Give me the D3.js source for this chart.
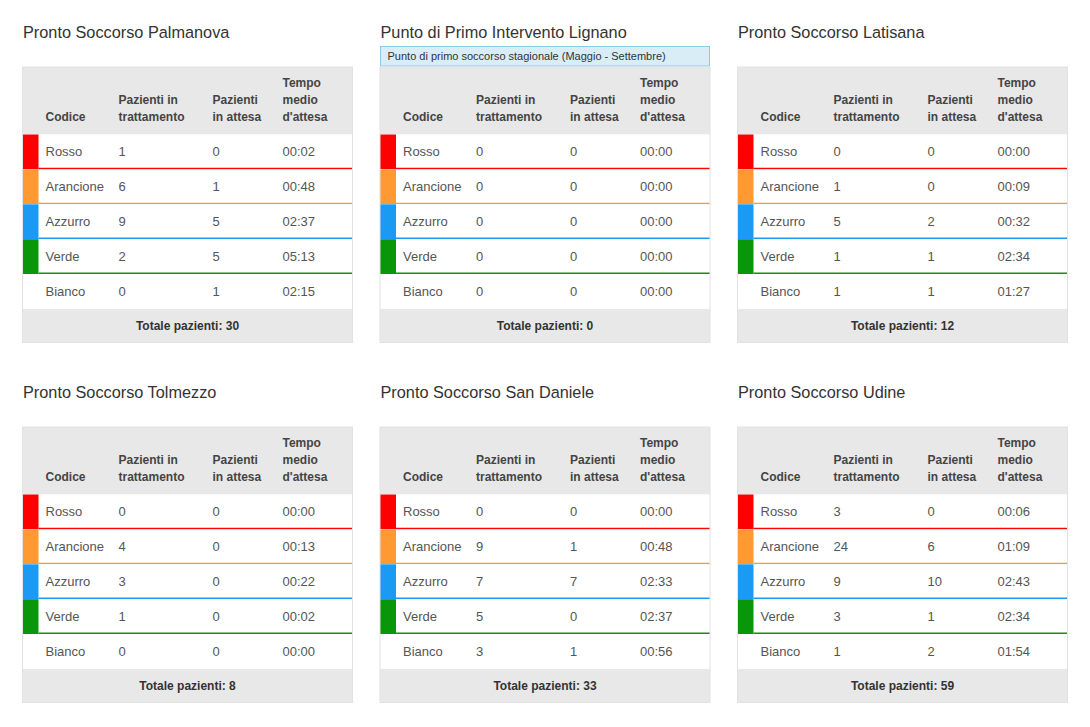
<!DOCTYPE html>
<html><head><meta charset="utf-8">
<script src="https://cdn.jsdelivr.net/npm/d3@7"></script>
<style>
body{margin:0;background:#fff;}
svg{display:block;font-family:"Liberation Sans",Arial,sans-serif;}
</style></head>
<body><svg id="c" width="1090" height="727"></svg>
<script>
const hospitals = ["Pronto Soccorso Palmanova","Punto di Primo Intervento Lignano","Pronto Soccorso Latisana","Pronto Soccorso Tolmezzo","Pronto Soccorso San Daniele","Pronto Soccorso Udine"];
const notes = ["","Punto di primo soccorso stagionale (Maggio - Settembre)","","","",""];
const codes = ["Rosso","Arancione","Azzurro","Verde","Bianco"];
const headers = [["Codice"],["Pazienti in","trattamento"],["Pazienti","in attesa"],["Tempo","medio","d'attesa"]];
const inTreatment = [[1,6,9,2,0],[0,0,0,0,0],[0,1,5,1,1],[0,4,3,1,0],[0,9,7,5,3],[3,24,9,3,1]];
const waiting = [[0,1,5,5,1],[0,0,0,0,0],[0,0,2,1,1],[0,0,0,0,0],[0,1,7,0,1],[0,6,10,1,2]];
const avgWait = [
 ["00:02","00:48","02:37","05:13","02:15"],
 ["00:00","00:00","00:00","00:00","00:00"],
 ["00:00","00:09","00:32","02:34","01:27"],
 ["00:00","00:13","00:22","00:02","00:00"],
 ["00:00","00:48","02:33","02:37","00:56"],
 ["00:06","01:09","02:43","02:34","01:54"]];
const codeColors = {Rosso:"#ff0000",Arancione:"#ff9a33",Azzurro:"#1a9af2",Verde:"#0a960a",Bianco:null};

const svg = d3.select("#c");
const tableW = 330, headerH = 67.5, rowH = 34.9, footH = 33.5;
const px = d3.scaleLinear().domain([0,2]).range([22.5, 737.5]);
const py = d3.scaleLinear().domain([0,1]).range([0, 360]);
const colX = [23, 96, 190, 260];
const strip = 16;

hospitals.forEach((name, i) => {
  const gx = px(i % 3), gy = py(Math.floor(i / 3));
  const g = svg.append("g").attr("transform", `translate(${gx},${gy})`);
  g.append("text").attr("x", 0.5).attr("y", 37.5).attr("font-size", 16.3).attr("fill", "#333").text(name);
  if (notes[i]) {
    g.append("rect").attr("x", 0.5).attr("y", 46.5).attr("width", tableW - 1).attr("height", 19.5)
      .attr("fill", "#d9edf7").attr("stroke", "#8ccde6").attr("stroke-width", 1);
    g.append("text").attr("x", 7.5).attr("y", 60).attr("font-size", 11).attr("fill", "#333").text(notes[i]);
  }
  const top = 67;
  const y = d3.scaleBand().domain(codes).range([top + headerH, top + headerH + rowH * codes.length]);
  const tbl = g.append("g");
  // header
  tbl.append("rect").attr("x", 0).attr("y", top).attr("width", tableW).attr("height", headerH).attr("fill", "#e8e8e8");
  headers.forEach((lines, c) => {
    const t = tbl.append("text").attr("font-size", 12).attr("font-weight", "bold").attr("fill", "#444");
    lines.forEach((ln, k) => {
      t.append("tspan").attr("x", colX[c]).attr("y", top + 54 - (lines.length - 1 - k) * 17).text(ln);
    });
  });
  // rows
  const rows = tbl.selectAll("g.row").data(codes).join("g").attr("class", "row")
    .attr("transform", d => `translate(0,${y(d)})`);
  rows.append("rect").attr("width", tableW).attr("height", y.bandwidth()).attr("fill", "#fff");
  rows.filter(d => codeColors[d]).append("rect").attr("x", 0).attr("width", strip).attr("height", y.bandwidth())
    .attr("fill", d => codeColors[d]);
  rows.filter(d => codeColors[d]).append("line").attr("x1", strip).attr("x2", tableW)
    .attr("y1", y.bandwidth() - 0.8).attr("y2", y.bandwidth() - 0.8)
    .attr("stroke", d => codeColors[d]).attr("stroke-width", 1.6);
  const cells = (d, j) => [d, inTreatment[i][j], waiting[i][j], avgWait[i][j]];
  rows.each(function(d, j) {
    d3.select(this).selectAll("text").data(cells(d, j)).join("text")
      .attr("x", (v, c) => colX[c]).attr("y", y.bandwidth() / 2 + 4.5)
      .attr("font-size", 13).attr("fill", "#555").text(v => v);
  });
  // footer
  const fy = y.range()[1];
  const total = d3.sum(inTreatment[i]) + d3.sum(waiting[i]);
  tbl.append("rect").attr("x", 0).attr("y", fy).attr("width", tableW).attr("height", footH).attr("fill", "#e8e8e8");
  tbl.append("text").attr("x", tableW / 2).attr("y", fy + footH / 2 + 4.3).attr("text-anchor", "middle")
    .attr("font-size", 12).attr("font-weight", "bold").attr("fill", "#333").text("Totale pazienti: " + total);
  tbl.append("rect").attr("x", 0).attr("y", top).attr("width", tableW).attr("height", fy + footH - top)
    .attr("fill", "none").attr("stroke", "#e2e2e2").attr("stroke-width", 1);
});
</script></body></html>
